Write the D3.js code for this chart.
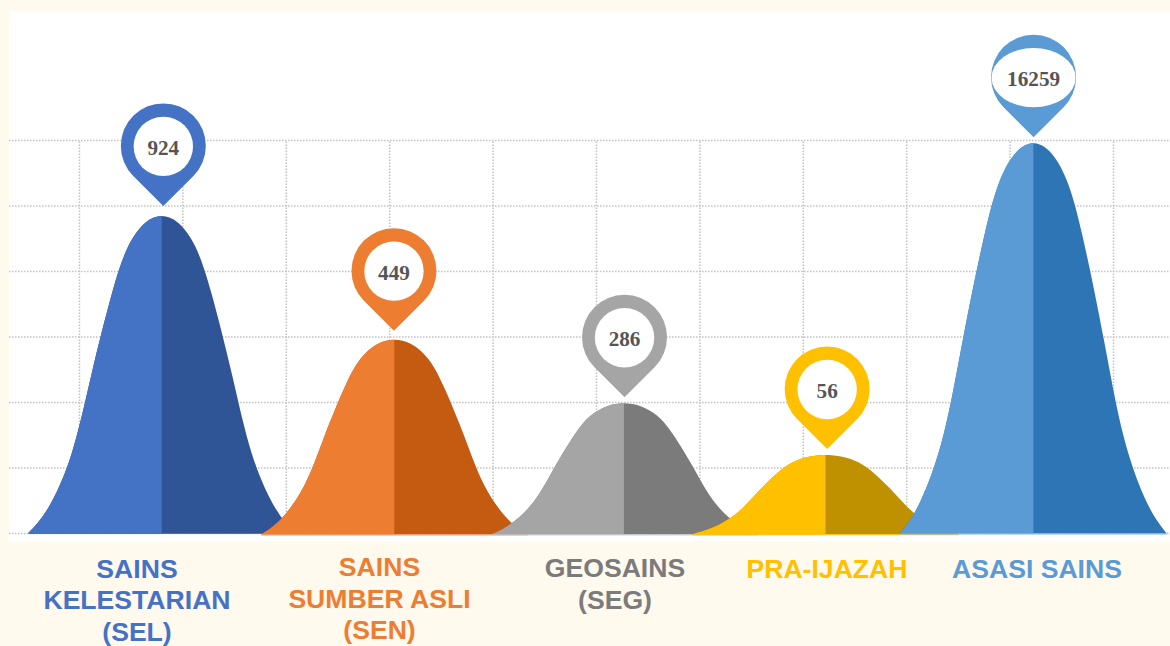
<!DOCTYPE html>
<html>
<head>
<meta charset="utf-8">
<script src="https://cdn.jsdelivr.net/npm/d3@7/dist/d3.min.js"></script>
<style>
  html, body { margin: 0; padding: 0; background: #fff9ee; overflow: hidden; }
  svg { display: block; }
  .grid line { stroke: #c2c2c2; stroke-width: 1.5; stroke-dasharray: 1.5 1.5; }
  .grid path { display: none; }
  .cat { font-family: "Liberation Sans", Arial, sans-serif; font-weight: bold; font-size: 26.6px; text-anchor: middle; }
  .val { font-family: "Liberation Serif", "Times New Roman", serif; font-weight: bold; font-size: 21.2px; fill: #555555; text-anchor: middle; }
</style>
</head>
<body>
<svg id="chart" width="1170" height="646"></svg>
<script>
// values
let categories = [
  ["SAINS", "KELESTARIAN", "(SEL)"],
  ["SAINS", "SUMBER ASLI", "(SEN)"],
  ["GEOSAINS", "(SEG)"],
  ["PRA-IJAZAH"],
  ["ASASI SAINS"]
];
let values = [924, 449, 286, 56, 16259];

// peak height and centre of each bell, in grid cells
let peakHeights = [4.84, 2.95, 1.98, 1.19, 5.95];
let peakCentres = [0.80, 3.05, 5.27, 7.22, 9.23];

// half of the bell outline: distance from centre / share of the peak height
let bellOffsets = [1, 0.85, 0.675, 0.525, 0.37, 0.25, 0.125, 0];
let bellShares = [0, 0.08, 0.251, 0.503, 0.76, 0.905, 0.978, 1];

let lightColors = ["#4472c4", "#ed7d31", "#a5a5a5", "#ffc000", "#5b9bd5"];
let darkColors = ["#2f5597", "#c55a11", "#7b7b7b", "#bf9000", "#2e75b6"];
let textColors = ["#4472c4", "#ed7d31", "#7b7b7b", "#ffc000", "#5b9bd5"];
let footColors = ["#4472c4", "#f2a06c", "#d4d4d4", "#ffc000", "#8fb9e2"];

// layout
let baseShift = [0, 1.5, 1.5, 1.2, 0.5];
let tipGap = [10, 9, 6, 6, 6];
let pinShift = [1.6, -0.4, 0.6, 1.6, 0.2];
let labelX = [137, 379.5, 615, 827, 1037];
let labelY = [577.5, 576, 577, 578, 578];
let lineStep = 31.5;
let halfWidth = 1.29;
let pinR = 42.5;
let holeR = 29.7;

let svg = d3.select("#chart");

svg.append("rect")
   .attr("x", 9).attr("y", 11)
   .attr("width", 1161).attr("height", 530.5)
   .attr("fill", "white");

let x = d3.scaleLinear().domain([0, 10]).range([79, 1113]);
let y = d3.scaleLinear().domain([0, 6]).range([533, 140]);

svg.append("g")
   .attr("class", "grid")
   .attr("transform", "translate(9,0)")
   .call(d3.axisRight(y).tickValues(d3.range(0, 7)).tickSize(1161).tickFormat(""));

svg.append("g")
   .attr("class", "grid")
   .attr("transform", "translate(0,533)")
   .call(d3.axisTop(x).tickValues(d3.range(0, 11)).tickSize(393).tickFormat(""));

// whole bell outline, left foot to right foot
let outline = bellOffsets.map((u, i) => [-u, bellShares[i]])
  .concat(bellOffsets.slice(0, -1).reverse().map((u, i, a) => [u, bellShares[a.length - 1 - i]]));

let defs = svg.append("defs");

categories.forEach((cat, i) => {
  let centre = peakCentres[i];
  let area = d3.area()
    .curve(d3.curveNatural)
    .x(d => x(centre + d[0] * halfWidth))
    .y0(y(0) + baseShift[i])
    .y1(d => y(d[1] * peakHeights[i]) + baseShift[i] * (1 - d[1]));

  defs.append("clipPath")
      .attr("id", "left" + i)
      .append("rect")
      .attr("x", x(centre - halfWidth) - 2)
      .attr("y", 0)
      .attr("width", x(centre) - x(centre - halfWidth) + 2)
      .attr("height", 646);

  svg.append("path")
     .attr("d", area(outline))
     .attr("fill", darkColors[i]);

  svg.append("path")
     .attr("d", area(outline))
     .attr("fill", lightColors[i])
     .attr("clip-path", "url(#left" + i + ")");

  // thin edge along the foot of the bell
  svg.append("line")
     .attr("x1", x(centre - halfWidth))
     .attr("x2", x(centre + halfWidth))
     .attr("y1", y(0) + baseShift[i] + 0.5)
     .attr("y2", y(0) + baseShift[i] + 0.5)
     .attr("stroke", footColors[i])
     .attr("stroke-width", 1);

  // map pin above the peak
  let tipY = y(peakHeights[i]) - tipGap[i];
  let cx = x(centre) + pinShift[i];
  let cy = tipY - pinR * Math.SQRT2;
  let s = pinR * Math.SQRT1_2;
  let pin = d3.path();
  pin.moveTo(cx, tipY);
  pin.lineTo(cx - s, cy + s);
  pin.arc(cx, cy, pinR, Math.PI * 0.75, Math.PI * 0.25);
  pin.closePath();

  svg.append("path")
     .attr("d", pin.toString())
     .attr("fill", lightColors[i]);

  // the last pin has a wide oval hole
  svg.append("ellipse")
     .attr("cx", cx)
     .attr("cy", cy + 0.5)
     .attr("rx", values[i] > 9999 ? pinR - 0.5 : holeR)
     .attr("ry", holeR)
     .attr("fill", "white");

  svg.append("text")
     .attr("class", "val")
     .attr("x", cx)
     .attr("y", cy + 9)
     .text(values[i]);

  cat.forEach((line, j) => {
    svg.append("text")
       .attr("class", "cat")
       .attr("x", labelX[i])
       .attr("y", labelY[i] + j * lineStep)
       .attr("fill", textColors[i])
       .text(line);
  });
});
</script>
</body>
</html>
